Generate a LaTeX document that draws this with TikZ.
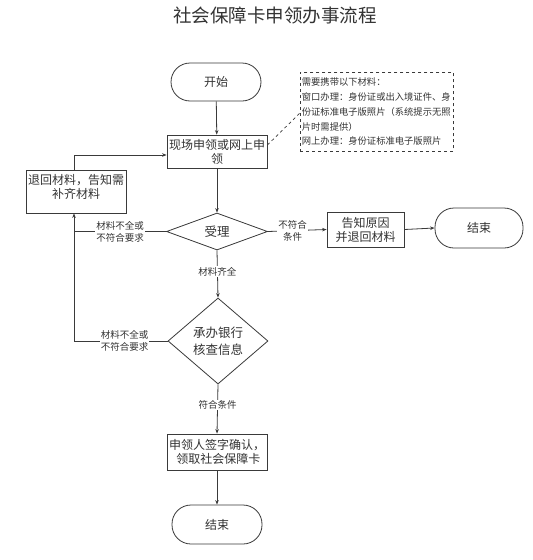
\documentclass[tikz,border=0pt]{standalone}
\usepackage{fontspec}
\setmainfont{Noto Sans CJK SC}
\usetikzlibrary{shapes.geometric,arrows.meta}
\definecolor{ink}{HTML}{333333}
\definecolor{edge}{HTML}{3A3A3A}
\tikzset{
  every node/.style={text=ink},
  boxnode/.style={draw=edge, line width=0.8pt, rectangle, align=center, font=\fontsize{12}{14}\selectfont, inner xsep=1pt, inner ysep=0pt},
  pill/.style={draw=edge, line width=0.8pt, rectangle, rounded corners=19pt, font=\fontsize{12}{14}\selectfont},
  dia/.style={draw=edge, line width=0.8pt, diamond, inner sep=0pt, align=center, font=\fontsize{12.5}{17}\selectfont},
  lbl/.style={fill=white, align=center, font=\fontsize{9.5}{12}\selectfont, inner sep=1pt},
  conn/.style={draw=edge, line width=0.8pt, -{Stealth[length=4.5pt,width=3.5pt]}},
  plain/.style={draw=edge, line width=0.8pt},
}
\begin{document}
\begin{tikzpicture}[x=1pt,y=-1pt]
\useasboundingbox[fill=white] (0,0) rectangle (533,560);
\node (title) at (275,15) {\fontsize{18.5}{20}\selectfont 社会保障卡申领办事流程};
\node[pill, minimum width=90, minimum height=38] (start) at (216,82) {开始};
\node[boxnode, minimum width=100, minimum height=33] (box1) at (217,151.5) {现场申领或网上申\\领};
\node[draw=edge, dashed, line width=0.7pt, minimum width=153, minimum height=79, inner sep=1.5pt, align=left, anchor=north west, text width=150, font=\fontsize{9.3}{14.8}\selectfont] (note) at (300,72) {需要携带以下材料：\\窗口办理：身份证或出入境证件、身\\份证标准电子版照片（系统提示无照\\片时需提供）\\网上办理：身份证标准电子版照片};
\node[boxnode, minimum width=100, minimum height=43] (box2) at (76,191.5) {退回材料，告知需\\补齐材料\\[-4pt]~};
\node[dia, minimum width=101, minimum height=37, aspect=2.7] (d1) at (217,231.5) {受理};
\node[dia, minimum width=100, minimum height=86, aspect=1.16] (d2) at (218,341) {承办银行\\核查信息};
\node[boxnode, minimum width=77, minimum height=35] (box3) at (365.5,229.5) {告知原因\\并退回材料};
\node[pill, minimum width=88, minimum height=40] (end1) at (479,228) {结束};
\node[boxnode, minimum width=100, minimum height=36] (box4) at (217,452) {申领人签字确认，\\\ 领取社会保障卡};
\node[pill, minimum width=90, minimum height=39] (end2) at (217,524.5) {结束};

\coordinate (j1) at (74,231.5);
\coordinate (j2) at (74,341);
\coordinate (j3) at (74,155);

\draw[conn] (start) -- (box1);
\draw[conn] (box1) -- (d1);
\draw[plain] (d1.west) -- node[lbl, pos=0.5] (l1) {材料不全或\\不符合要求} (j1);
\draw[conn] (j1) -- (j1 |- box2.south);
\draw[plain] (d2.west) -- node[lbl, pos=0.46] (l2) {材料不全或\\不符合要求} (j2) -- (j1);
\draw[conn] (j1 |- box2.north) -- (j3) -- (box1.west |- j3);
\draw[conn] (d1.east) -- node[lbl, pos=0.42] (l3) {不符合\\条件} (box3.west);
\draw[conn] (box3.east) -- (end1.west);
\draw[conn] (d1.south) -- node[lbl, pos=0.45] (l4) {材料齐全} (d2.north);
\draw[conn] (d2.south) -- node[lbl, pos=0.42] (l5) {符合条件} (box4.north);
\draw[conn] (box4) -- (end2);
\draw[draw=edge, dashed, line width=0.7pt] (box1.east |- 0,145) -- (note.west |- 0,113);
\end{tikzpicture}
\end{document}
